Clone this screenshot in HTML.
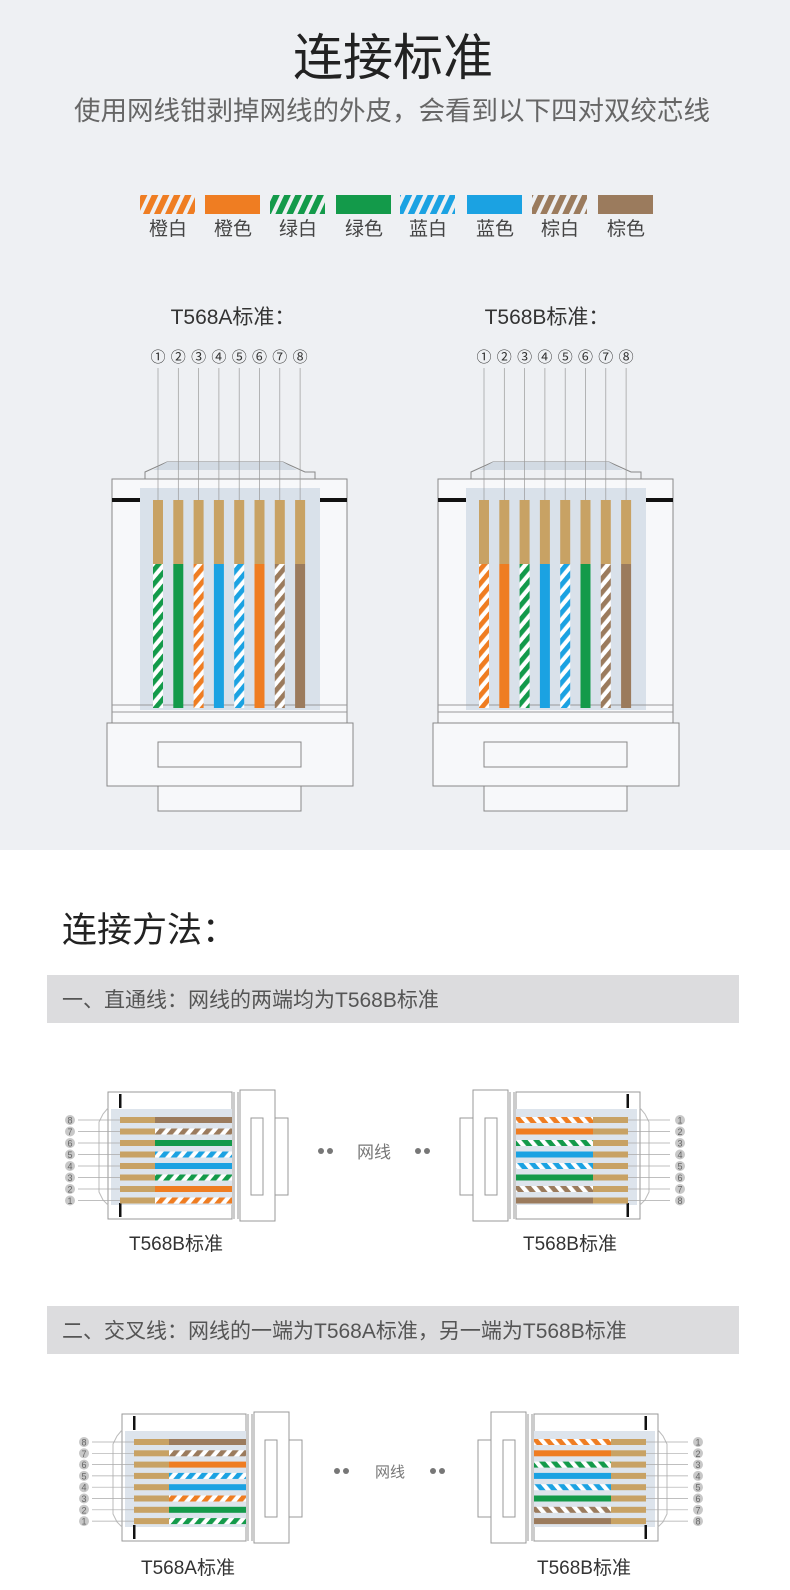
<!DOCTYPE html>
<html><head><meta charset="utf-8">
<style>
html,body{margin:0;padding:0;background:#fff;}
svg{display:block;}
text{font-family:"Liberation Sans","Noto Sans CJK SC",sans-serif;}
</style></head>
<body>
<svg id="s" xmlns="http://www.w3.org/2000/svg" width="790" height="1590" viewBox="0 0 790 1590">
<defs>
<pattern id="pow" width="9" height="9" patternUnits="userSpaceOnUse" patternTransform="rotate(40)"><rect width="9" height="9" fill="#fff"/><rect width="4.8" height="9" fill="#ef7d22"/></pattern>
<pattern id="pgw" width="9" height="9" patternUnits="userSpaceOnUse" patternTransform="rotate(40)"><rect width="9" height="9" fill="#fff"/><rect width="4.8" height="9" fill="#139a4a"/></pattern>
<pattern id="pbw" width="9" height="9" patternUnits="userSpaceOnUse" patternTransform="rotate(40)"><rect width="9" height="9" fill="#fff"/><rect width="4.8" height="9" fill="#1ba2e2"/></pattern>
<pattern id="pnw" width="9" height="9" patternUnits="userSpaceOnUse" patternTransform="rotate(40)"><rect width="9" height="9" fill="#fff"/><rect width="4.8" height="9" fill="#9b7b5d"/></pattern>
<pattern id="Low" width="10" height="10" patternUnits="userSpaceOnUse" patternTransform="rotate(25)"><rect width="10" height="10" fill="#eef0f3"/><rect width="6" height="10" fill="#ef7d22"/></pattern>
<pattern id="Lgw" width="10" height="10" patternUnits="userSpaceOnUse" patternTransform="rotate(25)"><rect width="10" height="10" fill="#eef0f3"/><rect width="6" height="10" fill="#139a4a"/></pattern>
<pattern id="Lbw" width="10" height="10" patternUnits="userSpaceOnUse" patternTransform="rotate(25)"><rect width="10" height="10" fill="#eef0f3"/><rect width="6" height="10" fill="#1ba2e2"/></pattern>
<pattern id="Lnw" width="10" height="10" patternUnits="userSpaceOnUse" patternTransform="rotate(25)"><rect width="10" height="10" fill="#eef0f3"/><rect width="6" height="10" fill="#9b7b5d"/></pattern>
</defs>
<rect x="0" y="0" width="790" height="850" fill="#eef0f3"/>
<text x="393" y="75" font-size="50" fill="#222" text-anchor="middle">连接标准</text>
<text x="392" y="120" font-size="26.5" fill="#666" text-anchor="middle">使用网线钳剥掉网线的外皮，会看到以下四对双绞芯线</text>
<g id="legend"></g>
<text x="233" y="324" font-size="21" fill="#333" text-anchor="middle">T568A标准：</text>
<text x="547" y="324" font-size="21" fill="#333" text-anchor="middle">T568B标准：</text>
<g id="vc"></g>
<text x="62" y="942" font-size="35" fill="#222">连接方法：</text>
<rect x="47" y="975" width="692" height="48" fill="#dcdcde"/>
<text x="62" y="1007" font-size="21" fill="#555">一、直通线：网线的两端均为T568B标准</text>
<rect x="47" y="1306" width="692" height="48" fill="#dcdcde"/>
<text x="62" y="1338" font-size="21" fill="#555">二、交叉线：网线的一端为T568A标准，另一端为T568B标准</text>
<g id="hc"></g>
<text x="176" y="1250" font-size="19" fill="#333" text-anchor="middle">T568B标准</text>
<text x="570" y="1250" font-size="19" fill="#333" text-anchor="middle">T568B标准</text>
<text x="188" y="1574" font-size="19" fill="#333" text-anchor="middle">T568A标准</text>
<text x="584" y="1574" font-size="19" fill="#333" text-anchor="middle">T568B标准</text>
<g fill="#777"><circle cx="321" cy="1151" r="3"/><circle cx="330" cy="1151" r="3"/><circle cx="418" cy="1151" r="3"/><circle cx="427" cy="1151" r="3"/>
<circle cx="337" cy="1471" r="3"/><circle cx="346" cy="1471" r="3"/><circle cx="433" cy="1471" r="3"/><circle cx="442" cy="1471" r="3"/></g>
<text x="374" y="1158" font-size="17" fill="#777" text-anchor="middle">网线</text>
<text x="390" y="1477" font-size="15" fill="#777" text-anchor="middle">网线</text>
</svg>
<script>
var NS="http://www.w3.org/2000/svg";
var COL={o:"#ef7d22",g:"#139a4a",b:"#1ba2e2",n:"#9b7b5d"};
var GOLD="#c8a264";
function fill(k,big){return k.length==2?"url(#"+(big?"L":"p")+k+")":COL[k];}
function el(p,t,a,txt){var e=document.createElementNS(NS,t);for(var k in a)e.setAttribute(k,a[k]);if(txt!=null)e.textContent=txt;p.appendChild(e);return e;}
var lg=document.getElementById("legend");
var L=[["ow","橙白",140],["o","橙色",205],["gw","绿白",270],["g","绿色",336],["bw","蓝白",400],["b","蓝色",467],["nw","棕白",532],["n","棕色",598]];
L.forEach(function(l){
  el(lg,"rect",{x:l[2],y:195,width:55,height:19,fill:fill(l[0],true)});
  el(lg,"text",{x:l[2]+28,y:235,"font-size":19,fill:"#444","text-anchor":"middle"},l[1]);
});
var vc=document.getElementById("vc");
var NUM="①②③④⑤⑥⑦⑧";
function vconn(x0,order){
  var g=el(vc,"g",{transform:"translate("+x0+",0)"});
  el(g,"polyline",{points:"0,479 33,479 33,472 55,462 171,462 193,472 203,472 203,479 235,479",fill:"none",stroke:"#888","stroke-width":1});
  el(g,"path",{d:"M55,462 L171,462 L185,470 L41,470 Z",fill:"#d2dae3"});
  el(g,"rect",{x:0,y:479,width:235,height:244,fill:"#f7f8fa",stroke:"#888","stroke-width":1});
  el(g,"rect",{x:28,y:488,width:180,height:222,fill:"#d9e1ea"});
  el(g,"rect",{x:0,y:498,width:28,height:4,fill:"#111"});
  el(g,"rect",{x:208,y:498,width:27,height:4,fill:"#111"});
  el(g,"line",{x1:0,y1:705,x2:235,y2:705,stroke:"#999"});
  el(g,"line",{x1:0,y1:712,x2:235,y2:712,stroke:"#999"});
  for(var i=0;i<8;i++){
    var cx=46+i*20.3;
    el(g,"line",{x1:cx,y1:368,x2:cx,y2:500,stroke:"#999","stroke-width":0.7});
    el(g,"text",{x:cx,y:362,"font-size":15,fill:"#333","text-anchor":"middle"},NUM[i]);
    el(g,"rect",{x:cx-5,y:500,width:10,height:64,fill:GOLD});
    el(g,"rect",{x:cx-5,y:564,width:10,height:144,fill:fill(order[i],false)});
  }
  el(g,"rect",{x:-5,y:723,width:246,height:63,fill:"#f7f8fa",stroke:"#888"});
  el(g,"rect",{x:46,y:742,width:143,height:25,fill:"#f7f8fa",stroke:"#888"});
  el(g,"rect",{x:46,y:786,width:143,height:25,fill:"#f7f8fa",stroke:"#888"});
}
var A=["gw","g","ow","b","bw","o","nw","n"], B=["ow","o","gw","b","bw","g","nw","n"];
vconn(112,A); vconn(438,B);
var hc=document.getElementById("hc");
function hconn(X,Y,order,mirror,sp){
  var tr=mirror?"translate("+X+","+Y+") scale(-1,1)":"translate("+X+","+Y+")";
  var g=el(hc,"g",{transform:tr});
  el(g,"rect",{x:0,y:0,width:124,height:127,fill:"#fff",stroke:"#999"});
  el(g,"path",{d:"M0,16 L-5,22 L-9,30 L-9,100 L-5,108 L0,113",fill:"none",stroke:"#bbb"});
  el(g,"rect",{x:3,y:17,width:121,height:96,fill:"#dde4ec"});
  el(g,"rect",{x:11,y:2,width:2.5,height:14,fill:"#111"});
  el(g,"rect",{x:11,y:111,width:2.5,height:14,fill:"#111"});
  for(var i=0;i<8;i++){
    var y=25+i*sp;
    el(g,"line",{x1:-30,y1:y+3,x2:12,y2:y+3,stroke:"#aaa","stroke-width":0.7});
    el(g,"rect",{x:12,y:y,width:35,height:6,fill:GOLD});
    el(g,"rect",{x:47,y:y,width:77,height:6,fill:fill(order[i],false)});
  }
  el(g,"line",{x1:126,y1:0,x2:126,y2:127,stroke:"#999"});
  el(g,"line",{x1:130,y1:0,x2:130,y2:127,stroke:"#999"});
  el(g,"rect",{x:132,y:-2,width:35,height:131,fill:"#fff",stroke:"#999"});
  el(g,"rect",{x:143,y:26,width:12,height:77,fill:"#fff",stroke:"#999"});
  el(g,"rect",{x:167,y:26,width:13,height:77,fill:"#fff",stroke:"#999"});
  for(var i=0;i<8;i++){
    var y=Y+25+i*sp+3;
    var nx=mirror?X+40:X-38;
    var n=mirror?(i+1):(8-i);
    el(hc,"circle",{cx:nx,cy:y,r:5,fill:"#c8c8c8"});
    el(hc,"text",{x:nx,y:y+3.5,"font-size":9,fill:"#666","text-anchor":"middle"},n);
  }
}
var Brev=B.slice().reverse(), Arev=A.slice().reverse();
hconn(108,1092,Brev,false,11.5);
hconn(640,1092,B,true,11.5);
hconn(122,1414,Arev,false,11.3);
hconn(658,1414,B,true,11.3);
</script>
</body></html>
